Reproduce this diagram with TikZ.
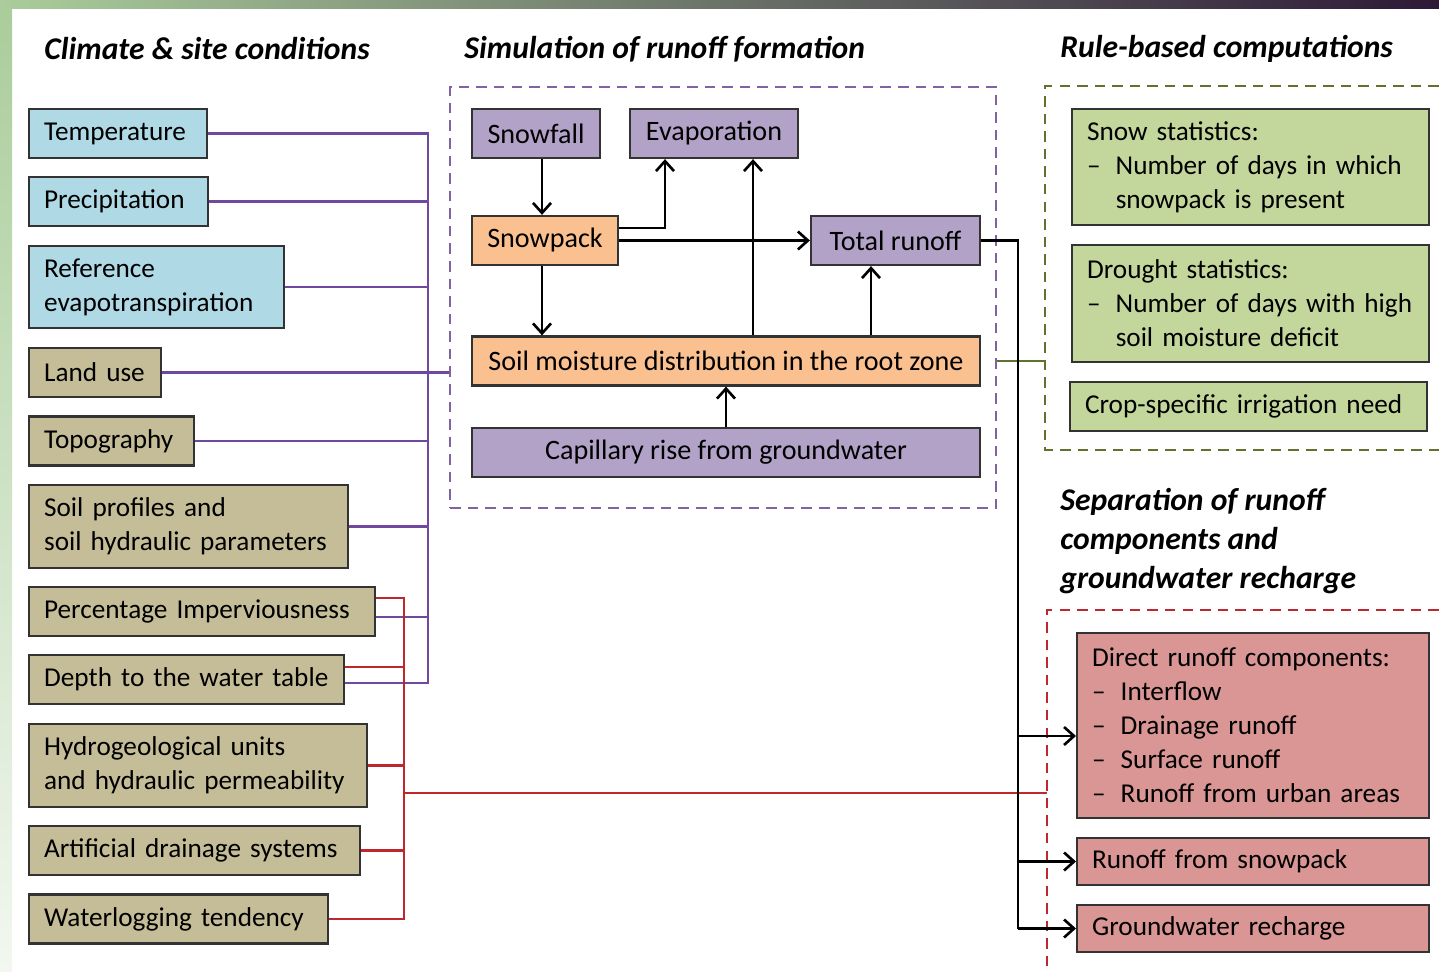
\documentclass[tikz,border=0pt]{standalone}
\usepackage{fontspec}
\setmainfont{Carlito}
\usetikzlibrary{arrows.meta,positioning,calc}
\definecolor{cBlue}{RGB}{176,217,230}
\definecolor{cTan}{RGB}{196,189,151}
\definecolor{cLila}{RGB}{179,162,199}
\definecolor{cOrange}{RGB}{250,192,144}
\definecolor{cGreen}{RGB}{195,214,155}
\definecolor{cRose}{RGB}{217,150,148}
\definecolor{cPurLine}{RGB}{112,72,160}
\definecolor{cPurDash}{RGB}{128,100,162}
\definecolor{cRedLine}{RGB}{190,40,45}
\definecolor{cGrnLine}{RGB}{95,115,45}
\definecolor{cFrameG}{RGB}{170,205,155}
\definecolor{cFrameM}{RGB}{130,150,135}
\definecolor{cFrameP}{RGB}{45,25,55}
\newcommand{\ditem}{\makebox[1.05em][l]{–}}
\newcommand{\dcont}{\hspace*{1.05em}}

\begin{document}
\begin{tikzpicture}[x=0.02cm, y=-0.02cm,
      font=\fontsize{15.5}{19.3}\selectfont,
      box/.style={draw=black!80, line width=1.3pt, inner xsep=0.3cm, inner ysep=2pt,
        minimum height=0.98cm, align=left, anchor=west},
      cbox/.style={draw=black!80, line width=1.3pt, inner sep=2pt,
        minimum height=0.98cm, align=center, font=\fontsize{16}{19.3}\selectfont},
      head/.style={font=\fontsize{18}{22}\selectfont\bfseries\itshape,
        inner sep=0pt, anchor=west, align=left},
      flow/.style={line width=1.5pt, -{Straight Barb[length=2mm,width=3.6mm]}},
      pline/.style={line width=1.5pt, cPurLine},
      rline/.style={line width=1.5pt, cRedLine},
      gline/.style={line width=1.5pt, cGrnLine},
      fence/.style={line width=1.5pt, dash pattern=on 6pt off 4pt}]
    \useasboundingbox (0,0) rectangle (1439,972);
    % slide frame
    \shade[left color=cFrameG, middle color=cFrameM, right color=cFrameP] (0,0) rectangle (1439,9);
    \shade[top color=cFrameG, bottom color=cFrameG!15] (0,9) rectangle (12,972);

    % headings
    \node[head] (h1) at (44,49) {Climate \& site conditions};
    \node[head] (h2) at (464,49) {Simulation of runoff formation};
    \node[head] (h3) at (1060,49) {Rule-based computations};
    \node[head] (h4) at (1060,541) {Separation of runoff\\components and\\groundwater recharge};

    % dashed groups
    \node[fence, draw=cPurDash, minimum width=10.92cm, minimum height=8.42cm] (simbox) at (723,297.5) {};
    \draw[fence, draw=cGrnLine] (1439,86) -| (1045,450) -- (1439,450);
    \draw[fence, draw=cRedLine] (1439,610) -| (1047,980);
    \coordinate (rulew) at (1045,0);
    \coordinate (sepw) at (1047,0);

    % climate & site conditions
    \node[box, fill=cBlue, text width=2.96cm] (temp) at (28,133.5) {Temperature};
    \node[box, fill=cBlue, text width=2.98cm] (precip) at (28,201.5) {Precipitation};
    \node[box, fill=cBlue, text width=4.50cm, minimum height=1.64cm] (refet) at (28,287) {Reference\\evapotranspiration};
    \node[box, fill=cTan, text width=2.04cm] (landuse) at (28,372.5) {Land use};
    \node[box, fill=cTan, text width=2.70cm] (topo) at (28,441) {Topography};
    \node[box, fill=cTan, text width=5.78cm, minimum height=1.66cm] (soilprof) at (28,526.5) {Soil profiles and\\soil hydraulic parameters};
    \node[box, fill=cTan, text width=6.32cm] (imperv) at (28,611.5) {Percentage Imperviousness};
    \node[box, fill=cTan, text width=5.70cm] (depth) at (28,679.5) {Depth to the water table};
    \node[box, fill=cTan, text width=6.16cm, minimum height=1.66cm] (hydro) at (28,765.5) {Hydrogeological units\\and hydraulic permeability};
    \node[box, fill=cTan, text width=6.02cm] (drain) at (28,850.5) {Artificial drainage systems};
    \node[box, fill=cTan, text width=5.38cm] (waterlog) at (28,919) {Waterlogging tendency};

    % runoff formation
    \node[cbox, fill=cLila, minimum width=2.56cm] (snowfall) at (536,133.5) {Snowfall};
    \node[cbox, fill=cLila, minimum width=3.36cm] (evap) at (714,133.5) {Evaporation};
    \node[cbox, fill=cOrange, minimum width=2.92cm] (snowpack) at (545,240.5) {Snowpack};
    \node[cbox, fill=cLila, minimum width=3.38cm] (total) at (895.5,240.5) {Total runoff};
    \node[cbox, fill=cOrange, minimum width=10.16cm] (soil) at (726,361) {Soil moisture distribution in the root zone};
    \node[cbox, fill=cLila, minimum width=10.16cm] (capil) at (726,452.5) {Capillary rise from groundwater};

    % rule-based computations
    \node[box, fill=cGreen, text width=6.54cm, minimum height=2.32cm] (snowstat) at (1071,167)
      {Snow statistics:\\\ditem Number of days in which\\\dcont snowpack is present};
    \node[box, fill=cGreen, text width=6.54cm, minimum height=2.34cm] (drought) at (1071,303.5)
      {Drought statistics:\\\ditem Number of days with high\\\dcont soil moisture deficit};
    \node[box, fill=cGreen, text width=6.54cm] (irrig) at (1069,406.5) {Crop-specific irrigation need};

    % separation of runoff components
    \node[box, fill=cRose, text width=6.44cm, minimum height=3.70cm] (direct) at (1076,725.5)
      {Direct runoff components:\\\ditem Interflow\\\ditem Drainage runoff\\\ditem Surface runoff\\\ditem Runoff from urban areas};
    \node[box, fill=cRose, text width=6.44cm, minimum height=0.94cm] (snowrun) at (1076,861.5) {Runoff from snowpack};
    \node[box, fill=cRose, text width=6.44cm, minimum height=0.94cm] (recharge) at (1076,928.5) {Groundwater recharge};

    % purple inputs
    \coordinate (pbus) at (428,0);
    \draw[pline] (temp.east) -| ($(depth.east -| pbus)+(0,3.5)$) -- ($(depth.east)+(0,3.5)$);
    \foreach \n in {precip,refet,topo,soilprof}
      \draw[pline] (\n.east) -- (\n.east -| pbus);
    \draw[pline] ($(imperv.east)+(0,5.5)$) coordinate (ip) -- (ip -| pbus);
    \draw[pline] (landuse.east) -- (landuse.east -| simbox.west);

    % red inputs
    \coordinate (rbus) at (404,0);
    \draw[rline] ($(imperv.east)+(0,-13.5)$) -| (waterlog.east -| rbus) -- (waterlog.east);
    \draw[rline] ($(depth.east)+(0,-12.5)$) coordinate (dr) -- (dr -| rbus);
    \foreach \n in {hydro,drain}
      \draw[rline] (\n.east) -- (\n.east -| rbus);
    \coordinate (rsplit) at (404,793);
    \draw[rline] (rsplit) -- (rsplit -| sepw);

    % green link
    \draw[gline] (soil.east -| simbox.east) -- (soil.east -| rulew);

    % flows inside the model
    \coordinate (sfx) at (542,0);
    \coordinate (evx) at (665,0);
    \coordinate (etx) at (753,0);
    \coordinate (trx) at (871,0);
    \draw[flow] (snowfall.south -| sfx) -- (snowpack.north -| sfx);
    \draw[flow] ($(snowpack.east)+(0,-12.5)$) -| (evap.south -| evx);
    \draw[flow] (snowpack.east) -- (total.west);
    \draw[flow] (snowpack.south -| sfx) -- (soil.north -| sfx);
    \draw[flow] (soil.north -| etx) -- (evap.south -| etx);
    \draw[flow] (soil.north -| trx) -- (total.south -| trx);
    \draw[flow] (capil.north) -- (soil.south);

    % total runoff to the components
    \coordinate (bk) at (1018,0);
    \draw[line width=1.5pt] (total.east) -| (recharge.west -| bk);
    \draw[flow] ($(direct.west -| bk)+(0,10.5)$) -- ($(direct.west)+(0,10.5)$);
    \draw[flow] (snowrun.west -| bk) -- (snowrun.west);
    \draw[flow] (recharge.west -| bk) -- (recharge.west);
  \end{tikzpicture}
\end{document}
